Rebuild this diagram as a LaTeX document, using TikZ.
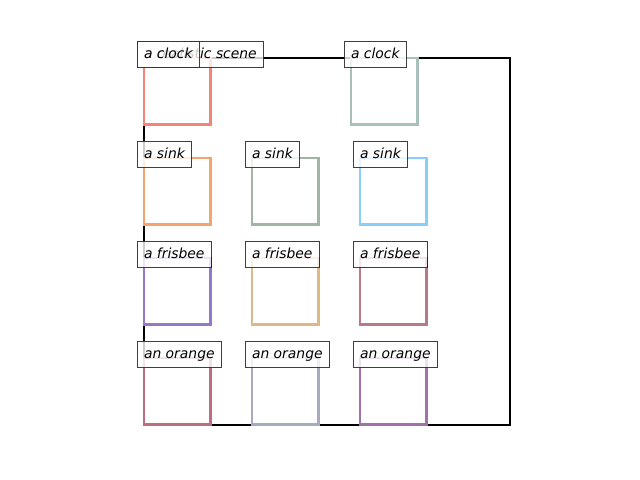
\documentclass[tikz,border=0pt]{standalone}
\usepackage{fontspec}
\setmainfont{DejaVu Sans}
\usepackage{tikz}

\definecolor{clockA}{HTML}{F4837A}
\definecolor{clockB}{HTML}{A9BFBC}
\definecolor{sinkA}{HTML}{F4A46C}
\definecolor{sinkB}{HTML}{A2B5A5}
\definecolor{sinkC}{HTML}{87CEFA}
\definecolor{frisbeeA}{HTML}{9478CC}
\definecolor{frisbeeB}{HTML}{DEB887}
\definecolor{frisbeeC}{HTML}{B87A88}
\definecolor{orangeA}{HTML}{BC6E80}
\definecolor{orangeB}{HTML}{A8AABF}
\definecolor{orangeC}{HTML}{A072A8}

\begin{document}
\begin{tikzpicture}[x=0.72pt,y=-0.72pt,
    tag/.style={draw=black,draw opacity=0.75,line width=0.7pt,
      fill=white,fill opacity=0.8,text opacity=1,
      inner xsep=5pt,inner ysep=4.6pt,text height=7.5pt,text depth=2.4pt,
      font=\itshape,anchor=text},
    objbox/.style={line width=1.5pt}]
  \useasboundingbox (0,0) rectangle (640,480);

  % Define the side of the object boxes
  \def\side{66.5}

  % Draw the scene
  \draw[line width=1.5pt] (144,58) rectangle (510,425);

  % Draw the object boxes
  \foreach \x/\y/\c in {144/58/clockA, 351/58/clockB,
      144/158/sinkA, 252/158/sinkB, 360/158/sinkC,
      144/258/frisbeeA, 252/258/frisbeeB, 360/258/frisbeeC,
      144/358/orangeA, 252/358/orangeB, 360/358/orangeC} {
    \draw[objbox,\c] (\x,\y) rectangle ++(\side,\side);
  }

  % Draw the labels
  \node[tag] (scene) at (144,58) {a realistic scene};
  \foreach \x/\y/\t/\n in {144/58/a clock/clockA, 351/58/a clock/clockB,
      144/158/a sink/sinkA, 252/158/a sink/sinkB, 360/158/a sink/sinkC,
      144/258/a frisbee/frisbeeA, 252/258/a frisbee/frisbeeB, 360/258/a frisbee/frisbeeC,
      144/358/an orange/orangeA, 252/358/an orange/orangeB, 360/358/an orange/orangeC} {
    \node[tag] (l\n) at (\x,\y) {\t};
  }

\end{tikzpicture}
\end{document}
